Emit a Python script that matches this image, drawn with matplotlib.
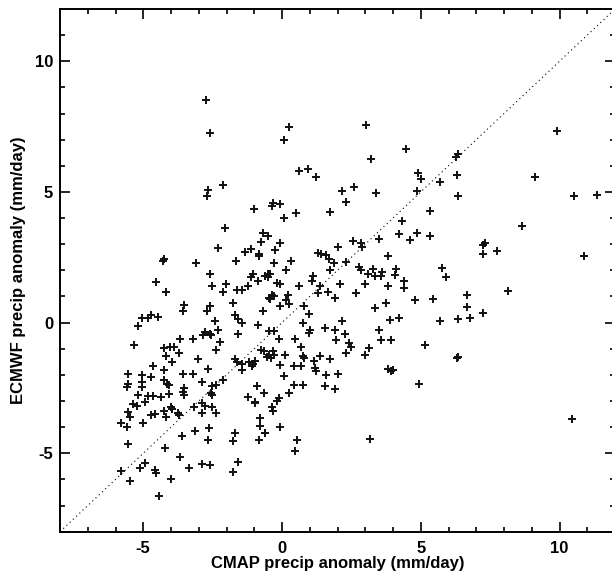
import matplotlib
matplotlib.use("Agg")
import matplotlib.pyplot as plt
from matplotlib.ticker import MultipleLocator

# CMAP vs ECMWF precipitation anomaly (mm/day)
cmap_anom = [
    -2.73, -2.59, -2.13, -2.67, -2.70, -1.00, -2.07, -0.69, -0.52, -0.76,
    -2.30, -1.11, -1.32, -0.84, -0.84, -4.27, -4.30, -3.10, -1.65, 0.26,
    0.07, 3.02, 4.46, 3.20, 0.61, 0.95, 1.24, 4.91, 5.00, 4.86,
    2.15, 2.58, 2.32, 3.37, -0.31, -0.35, -0.06, 0.06, 0.51, 1.72,
    4.31, 4.20, 4.60, 4.86, 3.48, -0.06, -0.24, 2.00, 2.55, 2.86,
    2.89, 1.29, 1.39, 1.60, 1.68, 1.89, 2.30, 3.81, -0.30, 0.34,
    9.91, 6.35, 6.28, 6.32, 9.12, 5.71, 6.35, 10.51, 11.35, 5.34,
    8.66, 5.33, 7.24, 7.31, 7.23, 7.74, 10.90,
    1.74, 1.12, 1.08, 1.36, 2.77, 2.86, 3.09, 3.28, 3.34, 3.60,
    3.55, 4.10, 4.07, 4.39, 4.40, 2.09, 2.98, 3.81, 5.75, 5.92,
    8.15, 5.43, 6.68, 6.65, 7.26, 5.70, 6.35, 6.79, 5.17, 6.34,
    6.29, 10.46, 4.95, 3.16, 3.34, 3.73, 4.80, 3.90, 4.23, 3.49,
    3.55, 3.92, 2.98, 3.13, 3.83, 4.00, 3.92, 2.68, 1.30, 1.66,
    1.90, 0.97, 2.17, 0.96, 1.02, 1.54, 1.90, 1.96, 2.27, 2.42,
    2.48, 2.32, 1.38, 1.72, 1.14, 1.18, 1.21, 1.60, 2.02, 1.54,
    1.92, -0.45, -0.51, 0.14, -0.18, -0.06, 0.60, -0.36, -0.42, -0.30,
    0.22, 0.14, 0.24, -0.06, 0.78, 0.75, 0.48, -0.12, -0.48, -0.30,
    0.70, 0.76, 0.79, 0.70, 0.42, -0.06, 0.12, -0.46, -0.34, -0.30,
    -0.54, -0.39, 0.06, 0.42, 0.74, 0.24, -0.10, -0.18, -0.36, -0.31,
    -0.09, 0.54, 0.46, -0.60,
    -2.61, -4.54, -4.18, -2.53, -2.01, -2.11, -1.61, -1.44, -1.21, -1.12,
    -1.03, -0.87, -0.60, -0.52, -0.48, -3.53, -3.57, -2.69, -2.59, -1.75,
    -1.71, -1.57, -1.44, -0.70, -0.88, -1.57, -2.41, -2.29, -2.77, -2.61,
    -2.83, -2.55, -3.19, -3.67, -2.25, -2.37, -5.05, -4.82, -4.73, -4.48,
    -5.18, -5.32, -4.24, -4.03, -3.88, -4.18, -3.95, -3.71, -3.03, -4.64,
    -4.27, -4.72, -5.05, -5.05, -5.54, -5.60, -5.56, -5.05, -4.24, -4.15,
    -4.06, -3.55, -3.19, -3.52, -3.55, -3.53, -2.89, -2.51, -2.38, -2.11,
    -2.67, -5.18, -4.84, -4.64, -4.36, -4.06, -4.93, -5.36, -1.71, -1.62,
    -1.44, -1.18, -1.03, -0.96, -1.08, -0.66, -0.75, -1.44, -0.90, -0.66,
    -1.21, -0.99, -2.53, -2.55, -2.89,
    -5.23, -5.56, -5.48, -5.80, -5.60, -5.02, -4.72, -4.57, -4.24, -4.18,
    -4.00, -3.97, -3.75, -3.71, -3.16, -2.87, -2.79, -2.51, -2.37, -3.61,
    -3.13, -2.62, -2.67, -1.71, -1.75, -0.78, -0.78, -0.63, -0.84, -0.96,
    -5.56, -4.21, -3.67, -4.93, -5.12, -5.80, -4.57, -4.55, -3.34, -2.87,
    -2.58, -1.57, -1.77, -5.48, -4.00, -4.43,
]
ecmwf_anom = [
    8.51, 7.27, 5.25, 5.06, 4.83, 4.35, 3.63, 3.42, 3.31, 3.10,
    2.85, 2.82, 2.69, 2.63, 2.53, 2.44, 2.35, 2.29, 2.35, 7.50,
    6.97, 7.58, 6.63, 6.26, 5.80, 5.86, 5.57, 5.71, 5.50, 5.05,
    5.04, 5.18, 4.62, 4.95, 4.58, 4.45, 4.54, 3.99, 4.18, 4.24,
    3.89, 3.40, 3.18, 3.42, 3.21, 3.06, 2.79, 2.90, 3.11, 3.06,
    2.90, 2.66, 2.62, 2.57, 2.44, 2.30, 2.33, 2.56, 2.27, 2.34,
    7.35, 6.45, 6.32, 5.65, 5.56, 5.38, 4.83, 4.83, 4.90, 4.26,
    3.68, 3.32, 2.98, 3.04, 2.63, 2.75, 2.53,
    2.00, 1.79, 1.61, 1.41, 2.12, 2.02, 1.87, 2.06, 1.79, 1.93,
    1.79, 2.06, 1.84, 1.61, 1.34, 1.47, 1.46, 1.42, 2.08, 1.74,
    1.20, 0.90, 1.07, 0.60, 0.38, 0.05, 0.14, 0.18, -0.84, -1.32,
    -1.36, -3.70, -2.34, -4.45, 0.55, 0.76, 0.85, 0.10, 0.16, -0.27,
    -0.66, -0.66, -1.24, -0.97, -1.78, -1.82, -1.87, 1.15, 1.12, 1.18,
    0.95, 0.34, 0.06, -0.40, -0.29, -0.19, -0.29, -0.68, -0.42, -0.79,
    -0.95, -1.15, -1.27, -1.40, -1.47, -1.72, -1.85, -2.01, -1.95, -2.42,
    -2.55, 1.87, 1.74, 2.00, 1.51, 1.46, 1.40, 1.07, 0.92, 1.00,
    1.04, 0.88, 0.72, 0.65, 0.62, 0.00, -0.61, -0.61, -0.33, -0.33,
    -0.95, -1.29, -1.37, -1.67, -1.67, -1.63, -1.25, -1.25, -1.08, -1.25,
    -1.31, -1.37, -2.05, -2.39, -2.37, -2.71, -2.88, -2.99, -3.22, -3.37,
    -3.98, -4.49, -4.90, -4.24,
    1.87, 1.55, 1.19, 1.40, 1.49, 1.19, 1.23, 1.26, 1.39, 1.74,
    1.87, 1.61, 1.80, 1.87, 0.94, 0.69, 0.43, 0.43, 0.62, 0.76,
    0.28, 0.15, 0.00, 0.44, -0.10, -0.45, 0.05, -0.27, -0.36, -0.42,
    -0.48, -0.48, -0.64, -0.64, -0.74, -1.03, 0.18, 0.18, 0.31, 0.21,
    -0.14, -0.84, -0.97, -0.95, -0.93, -1.29, -1.50, -1.18, -1.41, -1.67,
    -1.82, -2.08, -2.01, -2.27, -1.98, -2.46, -2.33, -2.48, -2.20, -2.35,
    -2.40, -1.98, -1.97, -2.50, -2.65, -2.77, -2.27, -2.43, -2.39, -2.18,
    -1.79, -2.77, -2.81, -2.81, -2.86, -2.75, -3.03, -3.12, -1.40, -1.50,
    -1.57, -1.50, -1.57, -1.48, -1.67, -1.08, -1.03, -1.82, -2.42, -2.69,
    -2.86, -3.03, -2.77, -2.69, -3.09,
    -3.19, -3.41, -3.63, -3.85, -3.98, -3.83, -3.54, -3.50, -3.37, -3.60,
    -3.24, -3.32, -3.45, -3.54, -3.24, -3.47, -3.19, -3.24, -3.47, -4.34,
    -4.15, -4.05, -4.49, -4.24, -4.52, -3.66, -3.96, -4.24, -4.49, -3.09,
    -4.65, -4.79, -5.15, -5.36, -5.57, -5.66, -5.64, -5.74, -5.57, -5.42,
    -5.46, -5.34, -5.70, -6.05, -5.99, -6.62,
]
one_to_one = [-8, 12]

plt.rcParams["font.family"] = ["Liberation Sans", "DejaVu Sans"]
plt.rcParams["font.weight"] = "bold"
plt.rcParams["axes.unicode_minus"] = False

fig = plt.figure(figsize=(6.12, 5.78), dpi=100)
ax = fig.add_axes([60 / 612, 46.3 / 578, 555 / 612, 522.7 / 578])

ax.plot(one_to_one, one_to_one, color="black", linestyle=(0, (1, 3)), linewidth=0.8)
ax.plot(cmap_anom, ecmwf_anom, linestyle="none", marker="+", color="#111111",
        markersize=6, markeredgewidth=1.4)

ax.set_xlim(-8, 12)
ax.set_ylim(-8, 12)
ax.xaxis.set_major_locator(MultipleLocator(5))
ax.xaxis.set_minor_locator(MultipleLocator(1))
ax.yaxis.set_major_locator(MultipleLocator(5))
ax.yaxis.set_minor_locator(MultipleLocator(1))
ax.tick_params(which="both", direction="in", top=True, right=True, width=1.2, labelsize=12)
ax.tick_params(which="major", length=7.5)
ax.tick_params(which="minor", length=3.8)
ax.tick_params(axis="x", pad=7)
ax.tick_params(axis="y", pad=5)
for s in ax.spines.values():
    s.set_linewidth(1.4)

ax.set_xlabel("CMAP precip anomaly (mm/day)", fontsize=12, fontweight="bold")
ax.set_ylabel("ECMWF precip anomaly (mm/day)", fontsize=12, fontweight="bold")
ax.xaxis.set_label_coords(0.5, -0.047)
ax.yaxis.set_label_coords(-0.062, 0.5)

fig.savefig("out.png", dpi=100)
